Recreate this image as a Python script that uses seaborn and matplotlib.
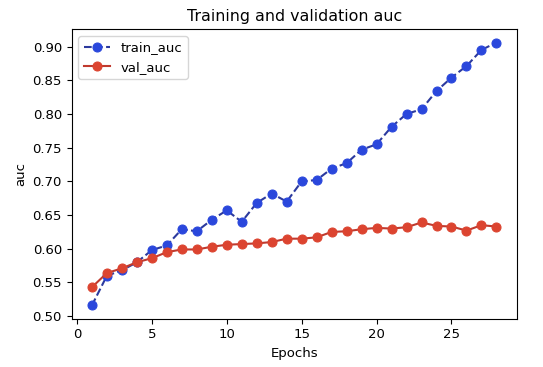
import numpy as np
import pandas as pd
import matplotlib
matplotlib.use("Agg")
import matplotlib.pyplot as plt
import seaborn as sns

# values
epochs = list(range(1, 29))
train_auc = [0.516, 0.560, 0.568, 0.580, 0.598, 0.605, 0.629, 0.626, 0.643, 0.657,
             0.640, 0.668, 0.682, 0.670, 0.700, 0.702, 0.719, 0.727, 0.747, 0.755,
             0.781, 0.800, 0.807, 0.834, 0.854, 0.871, 0.895, 0.906]
val_auc = [0.543, 0.564, 0.571, 0.580, 0.586, 0.595, 0.599, 0.599, 0.603, 0.606,
           0.607, 0.608, 0.610, 0.615, 0.615, 0.617, 0.625, 0.626, 0.629, 0.631,
           0.630, 0.632, 0.639, 0.634, 0.633, 0.627, 0.635, 0.633]

plt.rcParams['font.size'] = 9.5

fig, ax = plt.subplots(figsize=(5.43, 3.67), dpi=100)
fig.subplots_adjust(left=0.132, right=0.9515, top=0.92, bottom=0.132)

# training curve: dashed line with round markers
sns.lineplot(x=epochs, y=train_auc, ax=ax, label='train_auc',
             color='#2c3a9e', linestyle='--', marker='o', markersize=6.5,
             markerfacecolor='#2a47dc', markeredgecolor='#2a47dc')
# validation curve: solid line
sns.lineplot(x=epochs, y=val_auc, ax=ax, label='val_auc',
             color='#c03a2e', linestyle='-', marker='o', markersize=6.5,
             markerfacecolor='#dc4430', markeredgecolor='#dc4430')

ax.set_title('Training and validation auc', fontsize=11.4)
ax.set_xlabel('Epochs')
ax.set_ylabel('auc')
ax.legend(loc='upper left')

plt.savefig('out.png', dpi=100)
